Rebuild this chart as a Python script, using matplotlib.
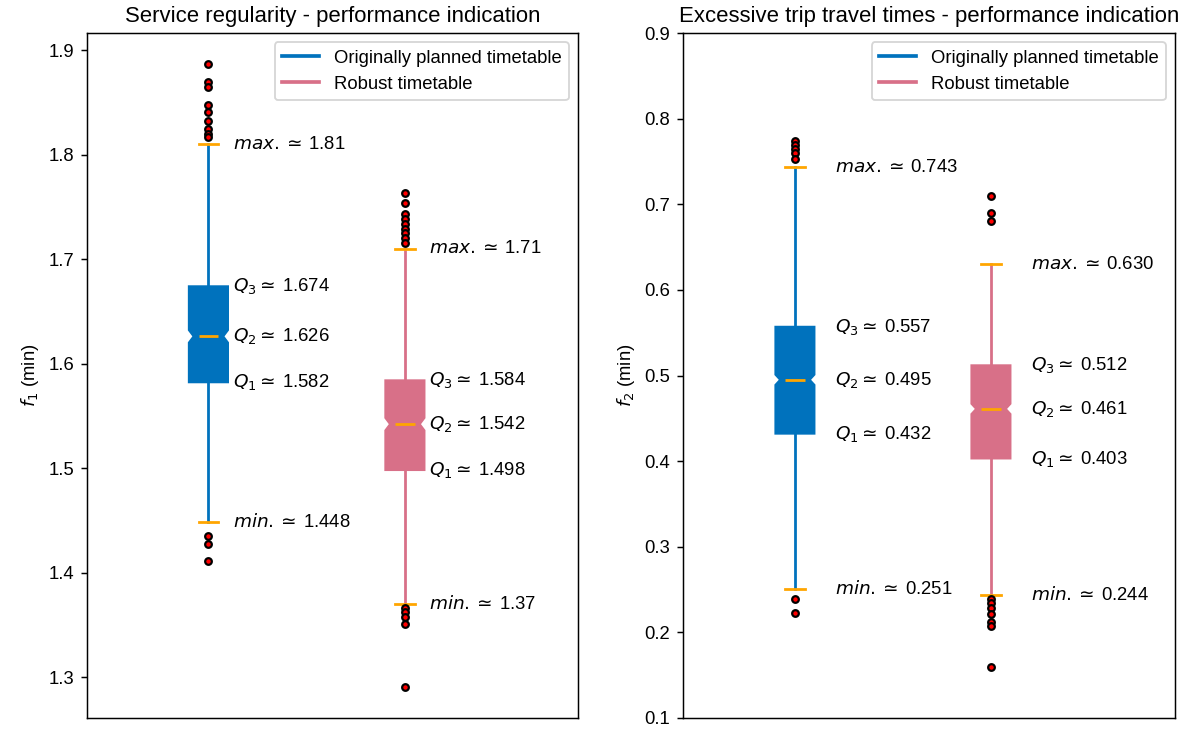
import matplotlib
matplotlib.use("Agg")
import matplotlib.pyplot as plt
from matplotlib.lines import Line2D

plt.rcParams['font.family'] = ['Liberation Sans', 'DejaVu Sans']
plt.rcParams['mathtext.fontset'] = 'dejavusans'

series_names = ["Originally planned timetable", "Robust timetable"]
colors = ["#0072BD", "#D87088"]

# Left panel: f1 (min)
f1_q1 = [1.582, 1.498]
f1_med = [1.626, 1.542]
f1_q3 = [1.674, 1.584]
f1_min = [1.448, 1.37]
f1_max = [1.81, 1.71]
f1_fliers = [
    [1.887, 1.869, 1.865, 1.847, 1.841, 1.832, 1.824, 1.820, 1.817, 1.435, 1.427, 1.411],
    [1.763, 1.754, 1.743, 1.738, 1.734, 1.729, 1.725, 1.720, 1.715, 1.366, 1.362, 1.357, 1.351, 1.290],
]
f1_labels = {"max": ["1.81", "1.71"], "q3": ["1.674", "1.584"], "q2": ["1.626", "1.542"],
             "q1": ["1.582", "1.498"], "min": ["1.448", "1.37"]}

# Right panel: f2 (min)
f2_q1 = [0.432, 0.403]
f2_med = [0.495, 0.461]
f2_q3 = [0.557, 0.512]
f2_min = [0.251, 0.244]
f2_max = [0.743, 0.630]
f2_fliers = [
    [0.774, 0.769, 0.764, 0.760, 0.753, 0.239, 0.223],
    [0.710, 0.690, 0.680, 0.239, 0.234, 0.229, 0.221, 0.212, 0.207, 0.160],
]
f2_labels = {"max": ["0.743", "0.630"], "q3": ["0.557", "0.512"], "q2": ["0.495", "0.461"],
             "q1": ["0.432", "0.403"], "min": ["0.251", "0.244"]}

titles = ["Service regularity - performance indication",
          "Excessive trip travel times - performance indication"]
ylabels = ["$f_1$ (min)", "$f_2$ (min)"]

W, H = 1195, 731
dpi = 133
fig = plt.figure(figsize=(W / dpi, H / dpi), dpi=dpi)

ax1 = fig.add_axes([87 / W, 1 - 718 / H, (578 - 87) / W, (718 - 33) / H])
ax2 = fig.add_axes([683 / W, 1 - 718 / H, (1175 - 683) / W, (718 - 33) / H])

BOX_W = 0.2


def draw(ax, q1, med, q3, lo, hi, fliers, labels, xlim, text_dx, notch):
    positions = [1, 2]
    for i in range(2):
        st = dict(med=med[i], q1=q1[i], q3=q3[i], whislo=lo[i], whishi=hi[i],
                  fliers=fliers[i], cilo=med[i] - notch, cihi=med[i] + notch)
        c = colors[i]
        res = ax.bxp([st], positions=[positions[i]], widths=BOX_W, shownotches=True,
                     patch_artist=True,
                     boxprops=dict(facecolor=c, edgecolor=c, linewidth=1.0),
                     whiskerprops=dict(color=c, linewidth=1.5),
                     capprops=dict(color="orange", linewidth=1.5),
                     medianprops=dict(color="orange", linewidth=1.5),
                     flierprops=dict(marker="o", markerfacecolor="red",
                                     markeredgecolor="black", markersize=3.6,
                                     markeredgewidth=1.2))
        # make the notch shallower
        patch = res["boxes"][0]
        path = patch.get_path()
        v = path.vertices.copy()
        p = positions[i]
        v[3, 0] = p + BOX_W * 0.38
        v[8, 0] = p - BOX_W * 0.38
        path.vertices = v
        x = positions[i] + text_dx
        fs = 10
        ax.text(x, hi[i], r"$max.\simeq\,$" + labels["max"][i], va="center", ha="left", fontsize=fs)
        ax.text(x, q3[i], r"$Q_3\simeq\,$" + labels["q3"][i], va="center", ha="left", fontsize=fs)
        ax.text(x, med[i], r"$Q_2\simeq\,$" + labels["q2"][i], va="center", ha="left", fontsize=fs)
        ax.text(x, q1[i], r"$Q_1\simeq\,$" + labels["q1"][i], va="center", ha="left", fontsize=fs)
        ax.text(x, lo[i], r"$min.\simeq\,$" + labels["min"][i], va="center", ha="left", fontsize=fs)
    ax.set_xlim(*xlim)
    ax.set_xticks([])
    handles = [Line2D([], [], color=colors[0], lw=2), Line2D([], [], color=colors[1], lw=2)]
    ax.legend(handles, series_names, loc="upper right", fontsize=10)


draw(ax1, f1_q1, f1_med, f1_q3, f1_min, f1_max, f1_fliers, f1_labels,
     (0.382, 2.881), 0.125, 0.006)
ax1.set_ylim(1.2608, 1.9163)
ax1.set_yticks([1.3, 1.4, 1.5, 1.6, 1.7, 1.8, 1.9])

draw(ax2, f2_q1, f2_med, f2_q3, f2_min, f2_max, f2_fliers, f2_labels,
     (0.429, 2.939), 0.204, 0.006)
ax2.set_ylim(0.1, 0.9)
ax2.set_yticks([0.1, 0.2, 0.3, 0.4, 0.5, 0.6, 0.7, 0.8, 0.9])

for ax, t, yl in zip([ax1, ax2], titles, ylabels):
    ax.set_title(t, fontsize=12)
    ax.set_ylabel(yl)

fig.savefig("out.png", dpi=dpi)
